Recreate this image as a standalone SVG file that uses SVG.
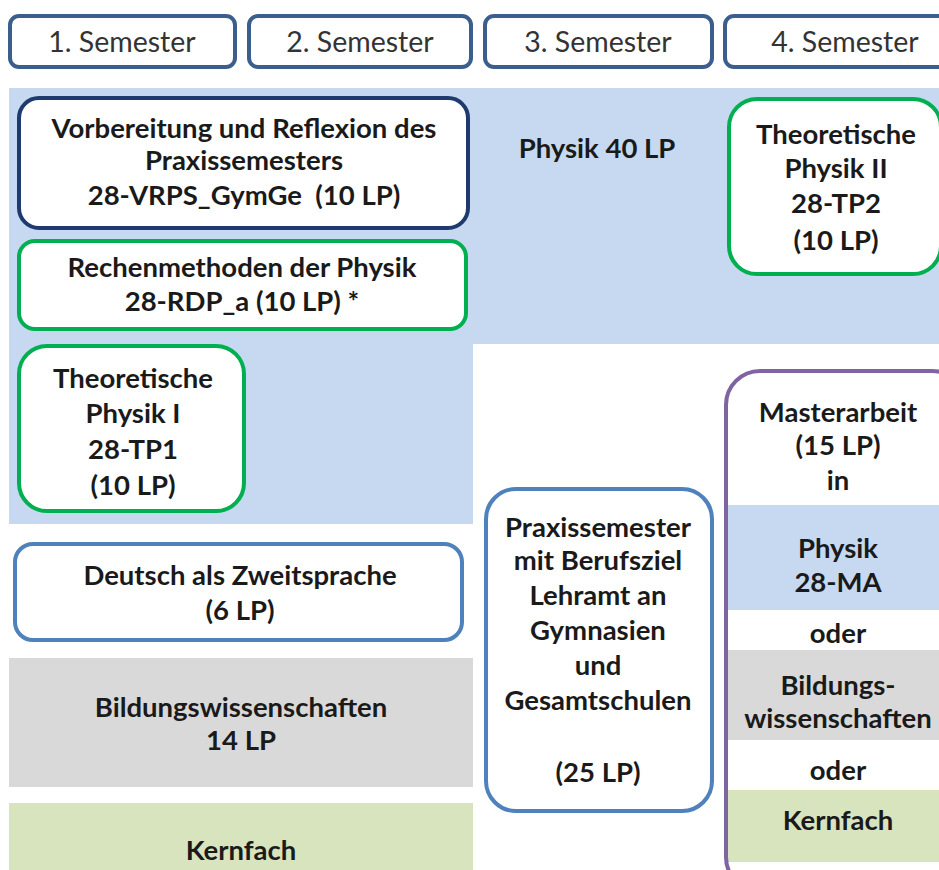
<svg xmlns="http://www.w3.org/2000/svg" width="939" height="870" viewBox="0 0 939 870">
<style>
text{font-family:Lato,"Liberation Sans",sans-serif;font-size:27.5px;fill:#1a1a1a;text-anchor:middle;font-weight:bold}
.sem{font-weight:normal;fill:#333;font-size:28.5px}
.semb{fill:#fff;stroke:#3b5e8c;stroke-width:4}
.g{fill:#fff;stroke:#00b050;stroke-width:4}
.bl{fill:#fff;stroke:#4f81bd;stroke-width:4}
</style>
<rect width="939" height="870" fill="#fff"/>
<g id="backgrounds">
<path d="M9 88H939V344H473V524H9Z" fill="#c6d9f1"/>
</g>
<g id="sem1"><rect class="semb" x="10" y="16" width="225" height="51" rx="9"/><text class="sem" x="122" y="52">1. Semester</text></g>
<g id="sem2"><rect class="semb" x="249" y="16" width="222" height="51" rx="9"/><text class="sem" x="360" y="52">2. Semester</text></g>
<g id="sem3"><rect class="semb" x="485" y="16" width="227" height="51" rx="9"/><text class="sem" x="598" y="52">3. Semester</text></g>
<g id="sem4"><rect class="semb" x="725" y="16" width="230" height="51" rx="9"/><text class="sem" x="845" y="52">4. Semester</text></g>
<g id="physik40"><text x="597" y="158">Physik 40 LP</text></g>
<g id="vrps"><rect x="19" y="98" width="449" height="130" rx="20" fill="#fff" stroke="#1f3a6e" stroke-width="4"/>
<text x="244" y="138">Vorbereitung und Reflexion des</text>
<text x="244" y="170">Praxissemesters</text>
<text x="244" y="205" xml:space="preserve">28-VRPS_GymGe  (10 LP)</text></g>
<g id="rdp"><rect class="g" x="19" y="241" width="447" height="88" rx="16"/>
<text x="242" y="277">Rechenmethoden der Physik</text>
<text x="242" y="311">28-RDP_a (10 LP) *</text></g>
<g id="tp2"><rect class="g" x="729" y="99" width="212" height="175" rx="28"/>
<text x="836" y="144">Theoretische</text>
<text x="836" y="178">Physik II</text>
<text x="836" y="213">28-TP2</text>
<text x="836" y="250">(10 LP)</text></g>
<g id="tp1"><rect class="g" x="19" y="346" width="225" height="165" rx="28"/>
<text x="133" y="388">Theoretische</text>
<text x="133" y="423">Physik I</text>
<text x="133" y="459">28-TP1</text>
<text x="133" y="495">(10 LP)</text></g>
<g id="daz"><rect class="bl" x="15" y="544" width="447" height="96" rx="18"/>
<text x="240" y="585">Deutsch als Zweitsprache</text>
<text x="240" y="620">(6 LP)</text></g>
<g id="bildung"><rect x="9" y="658" width="464" height="129" fill="#d9d9d9"/>
<text x="241" y="717">Bildungswissenschaften</text>
<text x="241" y="750">14 LP</text></g>
<g id="kernfach"><rect x="9" y="803" width="464" height="67" fill="#d7e4bd"/>
<text x="241" y="860">Kernfach</text></g>
<g id="praxis"><rect class="bl" x="486" y="489" width="226" height="322" rx="30"/>
<text x="598" y="537">Praxissemester</text>
<text x="598" y="570">mit Berufsziel</text>
<text x="598" y="605">Lehramt an</text>
<text x="598" y="640">Gymnasien</text>
<text x="598" y="675">und</text>
<text x="598" y="710">Gesamtschulen</text>
<text x="598" y="782">(25 LP)</text></g>
<g id="master">
<rect x="726" y="371" width="240" height="520" rx="34" fill="#fff"/>
<rect x="728" y="505" width="211" height="105" fill="#c6d9f1"/>
<rect x="728" y="650" width="211" height="90" fill="#d9d9d9"/>
<rect x="728" y="790" width="211" height="72" fill="#d7e4bd"/>
<rect x="726" y="371" width="240" height="520" rx="34" fill="none" stroke="#8064a2" stroke-width="4"/>
<text x="838" y="422">Masterarbeit</text>
<text x="838" y="455">(15 LP)</text>
<text x="838" y="490">in</text>
<text x="838" y="558">Physik</text>
<text x="838" y="592">28-MA</text>
<text x="838" y="643">oder</text>
<text x="838" y="695">Bildungs-</text>
<text x="838" y="728">wissenschaften</text>
<text x="838" y="780">oder</text>
<text x="838" y="830">Kernfach</text>
</g>
<g id="connectors"></g>
</svg>
